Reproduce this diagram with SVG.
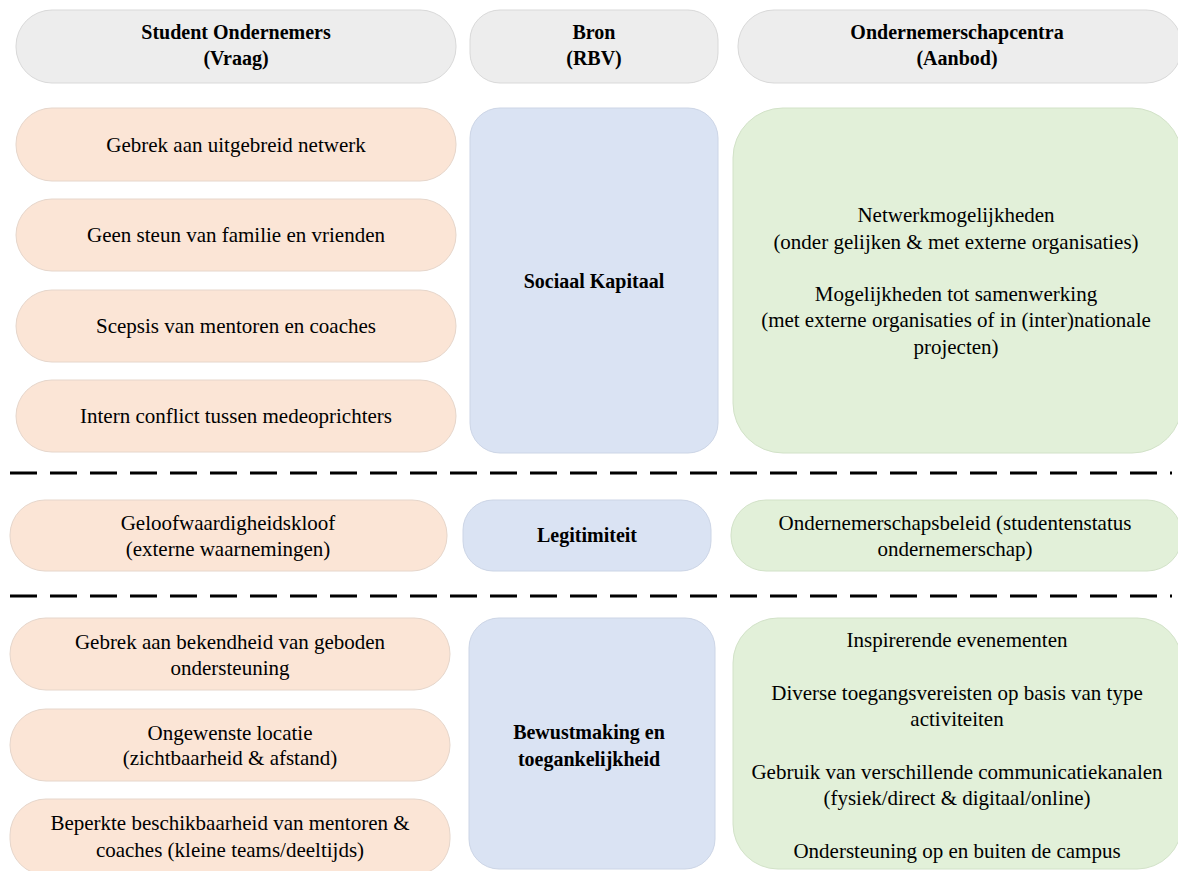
<svg xmlns="http://www.w3.org/2000/svg" width="1178" height="871" viewBox="0 0 1178 871">
<style>
text{font-size:21px;fill:#000;text-anchor:middle}
.b{font-weight:bold;font-size:20px}
.hd{fill:#EDEDED;stroke:#D9D9D9;stroke-width:1}
.pe{fill:#FBE5D6;stroke:#E6D6CB;stroke-width:1}
.bl{fill:#DAE3F3;stroke:#CCD5E6;stroke-width:1}
.gr{fill:#E2F0D9;stroke:#D2E2C8;stroke-width:1}
.dash{stroke:#000;stroke-width:3;stroke-dasharray:27 13;fill:none}
</style>
<g font-family="Liberation Serif, DejaVu Serif, serif">
<g id="header-vraag"><rect class="hd" x="16" y="10" width="440" height="73" rx="36"/><text class="b" x="236" y="39">Student Ondernemers</text><text class="b" x="236" y="65">(Vraag)</text></g>
<g id="header-bron"><rect class="hd" x="470" y="10" width="248" height="73" rx="30"/><text class="b" x="594" y="39">Bron</text><text class="b" x="594" y="65">(RBV)</text></g>
<g id="header-aanbod"><rect class="hd" x="738" y="10" width="444" height="73" rx="36"/><text class="b" x="957" y="39">Ondernemerschapcentra</text><text class="b" x="957" y="65">(Aanbod)</text></g>

<g id="v1"><rect class="pe" x="16" y="108" width="440" height="73" rx="36"/><text x="236" y="152">Gebrek aan uitgebreid netwerk</text></g>
<g id="v2"><rect class="pe" x="16" y="199" width="440" height="72" rx="36"/><text x="236" y="242">Geen steun van familie en vrienden</text></g>
<g id="v3"><rect class="pe" x="16" y="290" width="440" height="72" rx="36"/><text x="236" y="333">Scepsis van mentoren en coaches</text></g>
<g id="v4"><rect class="pe" x="16" y="380" width="440" height="72" rx="36"/><text x="236" y="423">Intern conflict tussen medeoprichters</text></g>
<g id="bron-sociaal"><rect class="bl" x="470" y="108" width="248" height="345" rx="30"/><text class="b" x="594" y="288">Sociaal Kapitaal</text></g>
<g id="aanbod-sociaal"><rect class="gr" x="733" y="108" width="449" height="345" rx="50"/>
<text x="956" y="222">Netwerkmogelijkheden</text>
<text x="956" y="249">(onder gelijken &amp; met externe organisaties)</text>
<text x="956" y="301">Mogelijkheden tot samenwerking</text>
<text x="956" y="327">(met externe organisaties of in (inter)nationale</text>
<text x="956" y="354">projecten)</text></g>

<g id="connectors">
<line class="dash" x1="10" y1="473" x2="1172" y2="473"/>
<line class="dash" x1="10" y1="596" x2="1172" y2="596"/>
</g>

<g id="v5"><rect class="pe" x="10" y="500" width="437" height="71" rx="35"/><text x="228" y="530">Geloofwaardigheidskloof</text><text x="228" y="556">(externe waarnemingen)</text></g>
<g id="bron-legitimiteit"><rect class="bl" x="463" y="500" width="248" height="71" rx="30"/><text class="b" x="587" y="542">Legitimiteit</text></g>
<g id="aanbod-legitimiteit"><rect class="gr" x="731" y="500" width="451" height="71" rx="35"/><text x="955" y="530">Ondernemerschapsbeleid (studentenstatus</text><text x="955" y="556">ondernemerschap)</text></g>

<g id="v6"><rect class="pe" x="10" y="618" width="440" height="72" rx="36"/><text x="230" y="649">Gebrek aan bekendheid van geboden</text><text x="230" y="675">ondersteuning</text></g>
<g id="v7"><rect class="pe" x="10" y="709" width="440" height="72" rx="36"/><text x="230" y="740">Ongewenste locatie</text><text x="230" y="765">(zichtbaarheid &amp; afstand)</text></g>
<g id="v8"><rect class="pe" x="10" y="799" width="440" height="76" rx="36"/><text x="230" y="830">Beperkte beschikbaarheid van mentoren &amp;</text><text x="230" y="857">coaches (kleine teams/deeltijds)</text></g>
<g id="bron-bewust"><rect class="bl" x="469" y="618" width="246" height="251" rx="30"/><text class="b" x="589" y="739">Bewustmaking en</text><text class="b" x="589" y="766">toegankelijkheid</text></g>
<g id="aanbod-bewust"><rect class="gr" x="733" y="618" width="449" height="251" rx="45"/>
<text x="957" y="647">Inspirerende evenementen</text>
<text x="957" y="700">Diverse toegangsvereisten op basis van type</text>
<text x="957" y="726">activiteiten</text>
<text x="957" y="779">Gebruik van verschillende communicatiekanalen</text>
<text x="957" y="805">(fysiek/direct &amp; digitaal/online)</text>
<text x="957" y="858">Ondersteuning op en buiten de campus</text></g>
</g>
</svg>
